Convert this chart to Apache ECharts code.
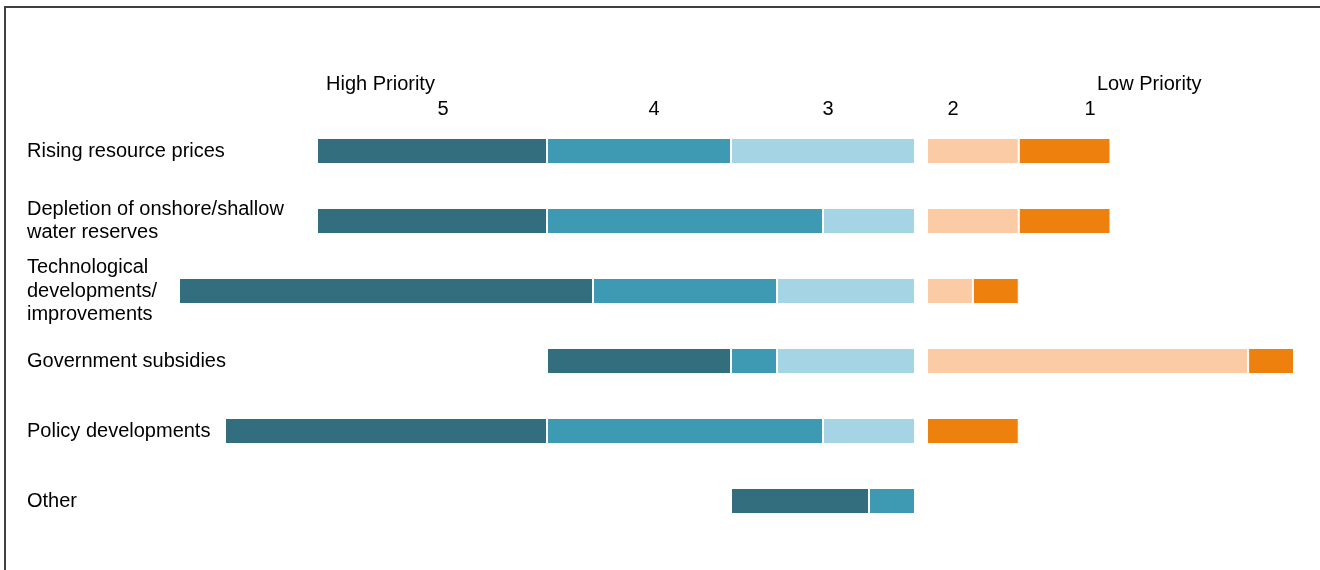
<!DOCTYPE html>
<html>
<head>
<meta charset="utf-8">
<script src="https://cdn.jsdelivr.net/npm/echarts@6/dist/echarts.min.js"></script>
<style>
html,body{margin:0;padding:0;background:#fff;}
#chart{width:1320px;height:570px;}
</style>
</head>
<body>
<div id="chart"></div>
<script>
const categories = [
  'Rising resource prices',
  'Depletion of onshore/shallow\nwater reserves',
  'Technological\ndevelopments/\nimprovements',
  'Government subsidies',
  'Policy developments',
  'Other'
];
const priority5 = [5, 5, 9, 4, 7, 3];
const priority4 = [4, 6, 4, 1, 6, 1];
const priority3 = [4, 2, 3, 3, 2, 0];
const priority2 = [2, 2, 1, 7, 0, 0];
const priority1 = [2, 2, 1, 1, 2, 0];
const tickLabels = ['5', '4', '3', '2', '1'];
const endLabels = ['High Priority', 'Low Priority'];

const FONT = '"Liberation Sans", Arial, sans-serif';
const colors = {
  p5: '#336e7f', p4: '#3e9ab3', p3: '#a5d5e5', p2: '#fbcba5', p1: '#ee800e'
};

const chart = echarts.init(document.getElementById('chart'));
function bar(name, data, color, idx) {
  return {
    name, type: 'bar', stack: 's' + idx, xAxisIndex: idx, yAxisIndex: idx,
    data, barWidth: 26,
    itemStyle: { color, borderColor: '#ffffff', borderWidth: 1 },
    emphasis: { disabled: true }
  };
}
const tickPos = [443, 654, 828, 953, 1090];
const graphics = [
  { type: 'line', shape: { x1: 4, y1: 7, x2: 1320, y2: 7 }, style: { stroke: '#404040', lineWidth: 2 } },
  { type: 'line', shape: { x1: 5, y1: 6, x2: 5, y2: 570 }, style: { stroke: '#404040', lineWidth: 2 } },
  { type: 'text', x: 326, y: 84, style: { text: endLabels[0], font: '20px ' + FONT, fill: '#000', verticalAlign: 'middle' } },
  { type: 'text', x: 1097, y: 84, style: { text: endLabels[1], font: '20px ' + FONT, fill: '#000', verticalAlign: 'middle' } }
];
tickLabels.forEach((t, i) => {
  graphics.push({ type: 'text', x: tickPos[i], y: 109, style: { text: t, font: '20px ' + FONT, fill: '#000', align: 'center', verticalAlign: 'middle' } });
});

chart.setOption({
  animation: false,
  textStyle: { fontFamily: FONT },
  grid: [
    { left: 133, right: 405, top: 116, height: 420 },
    { left: 927, right: 26, top: 116, height: 420 }
  ],
  xAxis: [
    { type: 'value', gridIndex: 0, min: 0, max: 17, inverse: true, show: false },
    { type: 'value', gridIndex: 1, min: 0, max: 8, show: false }
  ],
  yAxis: [
    {
      type: 'category', gridIndex: 0, data: categories, inverse: true, position: 'left',
      axisLine: { show: false }, axisTick: { show: false }, splitLine: { show: false },
      axisLabel: { align: 'left', margin: 106, fontSize: 20, color: '#000', lineHeight: 23.5, fontFamily: FONT, padding: [0, 0, 6, 0] }
    },
    {
      type: 'category', gridIndex: 1, data: categories, inverse: true,
      axisLine: { show: false }, axisTick: { show: false }, axisLabel: { show: false }, splitLine: { show: false }
    }
  ],
  series: [
    bar('3', priority3, colors.p3, 0),
    bar('4', priority4, colors.p4, 0),
    bar('5', priority5, colors.p5, 0),
    bar('2', priority2, colors.p2, 1),
    bar('1', priority1, colors.p1, 1)
  ],
  graphic: graphics
});
</script>
</body>
</html>
